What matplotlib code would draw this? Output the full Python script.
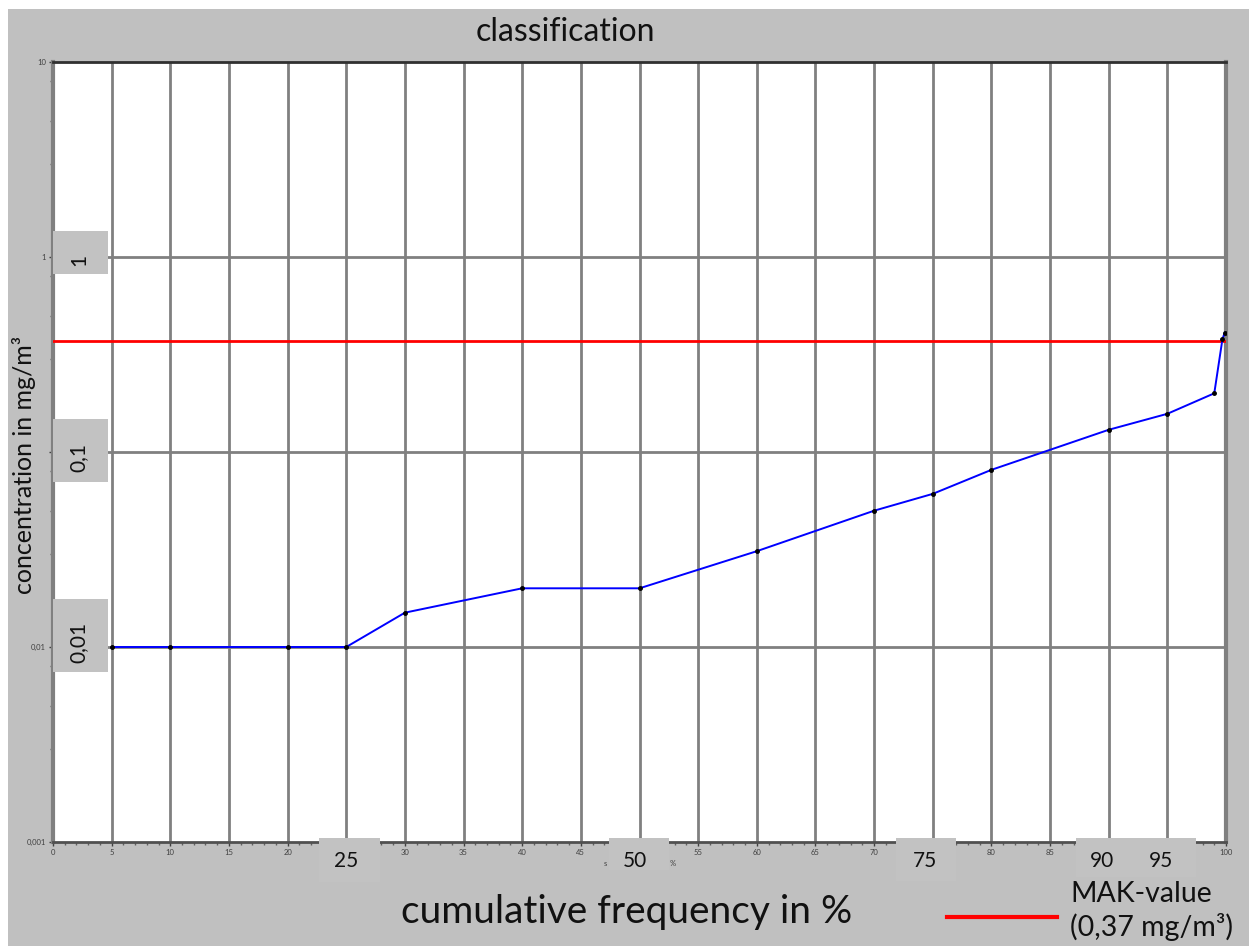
import matplotlib
matplotlib.use("Agg")
import matplotlib.pyplot as plt
from matplotlib.patches import Rectangle
from matplotlib.lines import Line2D
from matplotlib.ticker import FixedLocator, MultipleLocator

plt.rcParams['font.family'] = ['Lato', 'DejaVu Sans']

# cumulative frequency (%) and measured concentration (mg/m3)
freq = [5, 10, 20, 25, 30, 40, 50, 60, 70, 75, 80, 90, 95, 99, 99.7, 99.9]
conc = [0.01, 0.01, 0.01, 0.01, 0.015, 0.02, 0.02, 0.031, 0.05, 0.061, 0.081,
        0.13, 0.157, 0.2, 0.38, 0.41]
mak_value = 0.37

y_ticks = [10, 1, 0.1, 0.01, 0.001]
y_tick_labels = ["10", "1", "", "0,01", "0,001"]
x_ticks = list(range(0, 101, 5))
# small labels hidden under the pasted boxes are left out
x_hidden = [25, 50, 75, 90, 95]

# big relabels pasted over the original axis labels
y_big = [(1, "1"), (0.1, "0,1"), (0.01, "0,01")]
x_big = [(25, "25"), (49.6, "50"), (74.3, "75"), (89.4, "90"), (94.5, "95")]

BG = "#c0c0c0"
GRID = "#808080"

fig = plt.figure(figsize=(12.49, 9.46), dpi=100)
fig.patch.set_facecolor("white")
# grey panel (leaves a thin white strip top and left)
fig.patches.append(Rectangle((8 / 1249, 0), 1, 1 - 9 / 946, transform=fig.transFigure,
                             facecolor=BG, edgecolor="none", zorder=-5))

ax = fig.add_axes([53 / 1249, 1 - 842 / 946, (1226 - 53) / 1249, (842 - 62) / 946])
ax.set_facecolor("white")
ax.set_yscale("log")
ax.set_xlim(0, 100)
ax.set_ylim(0.001, 10)

# grid
for xv in x_ticks[1:]:
    ax.axvline(xv, color=GRID, lw=2, zorder=1)
for yv in [1, 0.1, 0.01]:
    ax.axhline(yv, color=GRID, lw=2, zorder=1)

# MAK line and data
ax.axhline(mak_value, color="red", lw=2, zorder=3)
ax.plot(freq, conc, color="blue", lw=1.4, marker="o", ms=2.5, mfc="black",
        mec="black", zorder=4)

# ticks
ax.xaxis.set_major_locator(FixedLocator(x_ticks))
ax.xaxis.set_minor_locator(MultipleLocator(1))
ax.set_xticklabels(["" if v in x_hidden else str(v) for v in x_ticks])
ax.yaxis.set_major_locator(FixedLocator(y_ticks))
ax.set_yticklabels(y_tick_labels)
ax.yaxis.set_minor_locator(FixedLocator([8, 5, 3, 0.8, 0.5, 0.3, 0.08, 0.05, 0.03,
                                         0.008, 0.005, 0.003]))
ax.yaxis.set_minor_formatter(plt.NullFormatter())
ax.tick_params(axis="both", which="major", labelsize=5.5, colors="#404040",
               length=3, width=1, pad=2)
ax.tick_params(axis="both", which="minor", length=2, width=1, colors="#606060")

for side in ["left", "right"]:
    ax.spines[side].set_color(GRID)
    ax.spines[side].set_linewidth(3)
ax.spines["top"].set_color("#303030")
ax.spines["top"].set_linewidth(2)
ax.spines["bottom"].set_color("#505050")
ax.spines["bottom"].set_linewidth(2)

# pasted label boxes on the y axis (x from axis to near 5 %)
y_box = {1: (0.82, 1.36), 0.1: (0.70, 1.47), 0.01: (0.74, 1.76)}
y_txt = {1: 0.97, 0.1: 0.094, 0.01: 0.0105}
for v, lab in y_big:
    lo, hi = y_box[v]
    ax.add_patch(Rectangle((0, v * lo), 4.7, v * (hi - lo), facecolor="#c2c2c2",
                           edgecolor="none", zorder=6, clip_on=False))
    ax.text(2.2, y_txt[v], lab, rotation=90, ha="center", va="center",
            fontsize=15, color="#111111", zorder=7)

# pasted label boxes on the x axis
x_box = [(22.7, 27.9, 0.00062), (47.4, 52.5, 0.00072), (71.9, 77.0, 0.00063),
         (87.2, 97.4, 0.00066)]
for x0, x1, yb in x_box:
    ax.add_patch(Rectangle((x0, yb), x1 - x0, 0.00105 - yb, facecolor="#c2c2c2",
                           edgecolor="none", zorder=6, clip_on=False))
for xv, lab in x_big:
    ax.text(xv, 0.00080, lab, ha="center", va="center", fontsize=15,
            color="#111111", zorder=7, clip_on=False)
# leftovers of the original "50 %" label
ax.text(47.1, 0.00078, "s", ha="center", va="center", fontsize=5.5, color="#404040",
        zorder=7, clip_on=False)
ax.text(52.8, 0.00078, "%", ha="center", va="center", fontsize=5.5, color="#404040",
        zorder=7, clip_on=False)

# titles
fig.text(565 / 1249, 1 - 32 / 946, "classification", ha="center", va="center",
         fontsize=23, color="#111111")
fig.text(24 / 1249, 1 - 465 / 946, "concentration in mg/m³", rotation=90,
         ha="center", va="center", fontsize=18, color="#111111")
fig.text(627 / 1249, 1 - 912 / 946, "cumulative frequency in %", ha="center",
         va="center", fontsize=28, color="#111111")

# legend for the MAK value
fig.lines.append(Line2D([947 / 1249, 1057 / 1249], [1 - 917 / 946, 1 - 917 / 946],
                        transform=fig.transFigure, color="red", lw=3))
fig.text(1070 / 1249, 1 - 911 / 946, "MAK-value\n(0,37 mg/m³)", ha="left",
         va="center", fontsize=20.5, color="#111111", linespacing=1.3)

fig.savefig("out.png", dpi=100, facecolor=fig.get_facecolor())
